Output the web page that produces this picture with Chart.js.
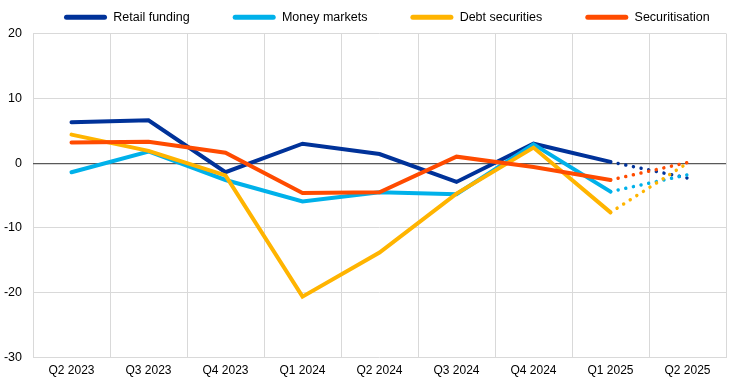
<!DOCTYPE html>
<html>
<head>
<meta charset="utf-8">
<script src="https://cdn.jsdelivr.net/npm/chart.js@4.4.1/dist/chart.umd.min.js"></script>
<style>
  html, body { margin: 0; padding: 0; background: #fff; }
  #wrap { width: 745px; height: 384px; }
</style>
</head>
<body>
<div id="wrap"><canvas id="funding-chart"></canvas></div>
<script>
// CHART DATA
const categories = ['Q2 2023', 'Q3 2023', 'Q4 2023', 'Q1 2024', 'Q2 2024', 'Q3 2024', 'Q4 2024', 'Q1 2025', 'Q2 2025'];
const retailFunding = [6.3, 6.6, -1.4, 3.0, 1.4, -2.9, 3.0, 0.2, -2.3];
const moneyMarkets = [-1.4, 1.8, -2.6, -5.9, -4.5, -4.8, 2.9, -4.4, -1.8];
const debtSecurities = [4.4, 1.9, -1.9, -20.6, -13.8, -4.7, 2.4, -7.6, 0.0];
const securitisation = [3.2, 3.3, 1.6, -4.6, -4.5, 1.0, -0.6, -2.6, 0.1];

// last segment (Q1 2025 -> Q2 2025) is dotted
const lastSolid = 7;
const dotted = (ctx, dotValue) => ctx.p0DataIndex >= lastSolid ? dotValue : undefined;

const makeLine = (label, data, color, order) => {
    return {
        label: label,
        data: data,
        borderColor: color,
        backgroundColor: color,
        borderWidth: 4,
        borderCapStyle: 'round',
        pointRadius: 0,
        pointHoverRadius: 0,
        tension: 0,
        order: order,
        segment: {
            borderDash: ctx => dotted(ctx, [0.01, 7.8]),
            borderWidth: ctx => dotted(ctx, 3.5)
        }
    };
}

const fontFamily = '"Liberation Sans", Arial, sans-serif';

// move the legend row to the right so it sits where the original one is
const legendShift = {
    id: 'legendShift',
    afterLayout(chart) {
        chart.legend.left += 31;
        chart.legend.right += 31;
    }
};

const buildChart = () => {
    var ctx = document.getElementById('funding-chart').getContext('2d');
    var chart = new Chart(ctx, {
        type: 'line',
        data: {
            labels: categories,
            datasets: [
                makeLine('Retail funding', retailFunding, '#003299', 4),
                makeLine('Money markets', moneyMarkets, '#00b1ea', 3),
                makeLine('Debt securities', debtSecurities, '#ffb400', 2),
                makeLine('Securitisation', securitisation, '#ff4b00', 1)
            ]
        },
        plugins: [legendShift],
        options: {
            responsive: true,
            maintainAspectRatio: false,
            animation: false,
            layout: {
                padding: { top: -32, left: -10, right: 19, bottom: 0 }
            },
            plugins: {
                tooltip: { enabled: false },
                legend: {
                    position: 'top',
                    align: 'start',
                    maxHeight: 67,
                    labels: {
                        color: '#000',
                        font: { family: fontFamily, size: 12.5 },
                        boxWidth: 43,
                        boxHeight: 5,
                        padding: 43,
                        useBorderRadius: true,
                        borderRadius: 2.5,
                        sort: (a, b) => a.datasetIndex - b.datasetIndex,
                        generateLabels: (chart) => {
                            return Chart.defaults.plugins.legend.labels.generateLabels(chart)
                                .map(item => Object.assign(item, { lineWidth: 0 }));
                        }
                    }
                }
            },
            scales: {
                x: {
                    offset: true,
                    grid: {
                        offset: true,
                        color: '#d9d9d9',
                        drawTicks: false
                    },
                    border: { display: false },
                    ticks: {
                        color: '#000',
                        font: { family: fontFamily, size: 12 },
                        padding: 6,
                        maxRotation: 0
                    }
                },
                y: {
                    min: -30,
                    max: 20,
                    afterFit: (scale) => { scale.width = 43; },
                    grid: {
                        color: (c) => c.tick && c.tick.value === 0 ? '#595959' : '#d9d9d9',
                        lineWidth: (c) => c.tick && c.tick.value === 0 ? 1.2 : 1,
                        drawTicks: false
                    },
                    border: { display: false },
                    ticks: {
                        stepSize: 10,
                        color: '#000',
                        font: { family: fontFamily, size: 12.5 },
                        padding: 11
                    }
                }
            }
        }
    });
}

buildChart();
</script>
</body>
</html>
